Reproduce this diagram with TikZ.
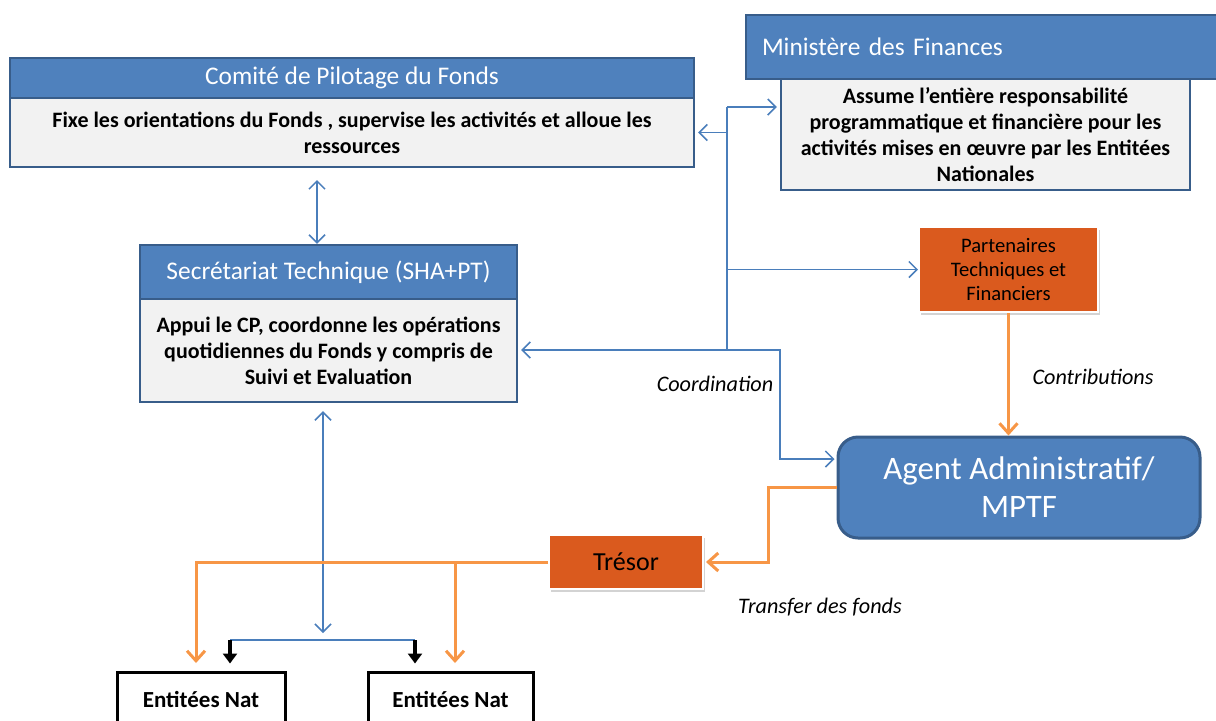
\documentclass[tikz,border=0pt]{standalone}
\usepackage{fontspec}
\setmainfont{Carlito}
\usetikzlibrary{arrows.meta,shadows}
\definecolor{hdblue}{HTML}{4F81BD}
\definecolor{hdline}{HTML}{385D8A}
\definecolor{bodygray}{HTML}{F2F2F2}
\definecolor{boxorange}{HTML}{DA5A1E}
\definecolor{lineorange}{HTML}{F79646}
\definecolor{lineblue}{HTML}{4A7EBB}
\begin{document}
\begin{tikzpicture}[x=0.5pt,y=-0.5pt,
    head node/.style={rectangle,fill=hdblue,draw=hdline,line width=1.2pt,text=white,inner sep=0pt,font=\fontsize{12.7}{15}\selectfont},
    body node/.style={rectangle,fill=bodygray,draw=hdline,line width=1.2pt,align=center,inner sep=0pt,font=\fontsize{11}{13}\selectfont\bfseries},
    orange node/.style={rectangle,fill=boxorange,draw=white,line width=1pt,align=center,inner sep=0pt,drop shadow={opacity=0.35,shadow xshift=1pt,shadow yshift=-1.5pt}},
    entity node/.style={rectangle,fill=white,draw=black,line width=1.5pt,inner sep=0pt,font=\fontsize{11.5}{13}\selectfont\bfseries},
    label text/.style={font=\fontsize{11.1}{13}\selectfont\itshape},
    blue line/.style={draw=lineblue,line width=0.75pt},
    blue arrow/.style={blue line,-{Straight Barb[length=4pt,width=8pt]}},
    blue both/.style={blue line,{Straight Barb[length=4pt,width=8pt]}-{Straight Barb[length=4pt,width=8pt]}},
    orange arrow/.style={draw=lineorange,line width=1.5pt,-{Straight Barb[length=5pt,width=9pt]}},
    black arrow/.style={draw=black,line width=2pt,-{Triangle[length=5pt,width=7pt]}}
  ]
  \clip (0,0) rectangle (1216,720);

  % boites bleues
  \node[head node,minimum width=342pt,minimum height=20pt] (cph) at (352,78) {Comité de Pilotage du Fonds};
  \node[body node,minimum width=342pt,minimum height=34.5pt] (cpb) at (352,132.5) {Fixe les orientations du Fonds , supervise les activités et alloue les\\ressources};
  \node[head node,minimum height=32pt,text width=231pt,align=left,inner xsep=8pt] (mfh) at (993,47) {Ministère des Finances};
  \node[body node,minimum width=204.5pt,minimum height=55.5pt] (mfb) at (985.5,134.5) {Assume l’entière responsabilité\\programmatique et financière pour les\\activités mises en œuvre par les Entitées\\Nationales};
  \node[head node,minimum width=188.5pt,minimum height=27pt] (sth) at (328.5,272) {Secrétariat Technique (SHA+PT)};
  \node[body node,minimum width=188.5pt,minimum height=51.5pt] (stb) at (328.5,350.5) {Appui le CP, coordonne les opérations\\quotidiennes du Fonds y compris de\\Suivi et Evaluation};
  \node[rectangle,rounded corners=10pt,fill=hdblue,draw=hdline,line width=1.5pt,text=white,align=center,minimum width=181pt,minimum height=50.5pt,font=\fontsize{16.4}{19}\selectfont] (aa) at (1019,487.5) {Agent Administratif/\\MPTF};

  % boites orange
  \node[orange node,minimum width=89.5pt,minimum height=42.5pt,font=\fontsize{10.3}{12.2}\selectfont] (ptf) at (1008.5,269.5) {Partenaires\\Techniques et\\Financiers};
  \node[orange node,minimum width=77pt,minimum height=27pt,font=\fontsize{13}{15}\selectfont] (tr) at (626,562) {Trésor};

  % entites
  \node[entity node,minimum width=84pt,minimum height=27pt] (e1) at (201,699) {Entitées Nat};
  \node[entity node,minimum width=82.5pt,minimum height=27pt] (e2) at (450.5,699) {Entitées Nat};

  \coordinate (t1) at (317,180);
  \coordinate (bustop) at (727,107);
  \coordinate (busbot) at (727,350);
  \coordinate (knee) at (780,350);
  \coordinate (o1) at (196,663);
  \coordinate (o2) at (455,663);
  \coordinate (d1) at (323,633);
  \coordinate (k1) at (230,640);
  \coordinate (k2) at (415,640);

  % coordination
  \draw[blue both] (t1) -- (t1 |- sth.north);
  \draw[blue line] (bustop) -- (busbot);
  \draw[blue arrow,shorten >=1.5pt] (bustop) -- (mfb.west |- bustop);
  \draw[blue arrow,shorten >=1.5pt] (bustop |- cpb.east) -- (cpb.east);
  \draw[blue arrow] (bustop |- ptf.west) -- (ptf.west);
  \draw[blue arrow,shorten >=1.5pt] (busbot) -- (busbot -| stb.east);
  \draw[blue arrow,shorten >=1pt] (busbot) -- (knee) |- ([yshift=14.25pt]aa.west);
  \draw[blue both] ([yshift=-4pt]stb.south -| d1) -- (d1);
  \draw[blue line] (k1) -- (k2);
  \draw[black arrow,shorten >=3.5pt] (k1) -- (k1 |- e1.north);
  \draw[black arrow,shorten >=3.5pt] (k2) -- (k2 |- e2.north);

  % fonds
  \draw[orange arrow] (ptf.south) -- (ptf.south |- aa.north);
  \draw[orange arrow,shorten >=1pt] (aa.west) -- ++(-68,0) |- (tr.east);
  \draw[orange arrow] (tr.west) -| (o1);
  \draw[orange arrow] (tr.west -| o2) -- (o2);

  \node[label text] (coord) at (715,384) {Coordination};
  \node[label text] (contrib) at (1093,377) {Contributions};
  \node[label text] (transfer) at (820,607) {Transfer des fonds};
\end{tikzpicture}
\end{document}
